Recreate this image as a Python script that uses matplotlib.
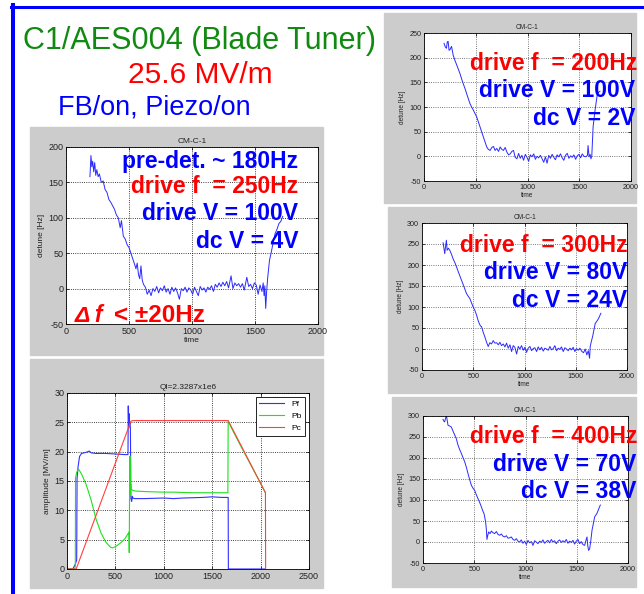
import matplotlib
matplotlib.use("Agg")
import matplotlib.pyplot as plt
from matplotlib.patches import Rectangle
from matplotlib.lines import Line2D

plt.rcParams["font.family"] = ["Liberation Sans", "DejaVu Sans"]
plt.rcParams["axes.unicode_minus"] = False

# ---- data --------------------------------------------------------------
# panel A: drive f = 250 Hz
t_a = [190, 198, 205, 212, 220, 228, 236, 245, 255, 265, 280, 295, 310, 325, 340,
       355, 370, 385, 400, 415, 430, 440, 455, 470, 485, 500, 515, 530, 545, 555,
       565, 575, 585, 595, 605, 615, 630, 645, 660, 675, 690, 705, 720, 735, 750,
       765, 780, 795, 810, 825, 840, 855, 870, 885, 900, 915, 930, 945, 960, 975,
       990, 1005, 1020, 1035, 1050, 1065, 1080, 1095, 1110, 1125, 1140, 1155, 1170,
       1185, 1200, 1215, 1230, 1245, 1260, 1275, 1290, 1310, 1325, 1340, 1355, 1370,
       1385, 1400, 1415, 1435, 1450, 1465, 1480, 1495, 1510, 1525, 1540, 1555, 1565,
       1572, 1578, 1585, 1592, 1600, 1615, 1630, 1645, 1660, 1675, 1690, 1705, 1720]
df_a = [158, 188, 172, 180, 165, 178, 160, 168, 158, 162, 150, 152, 140, 136, 126,
        122, 117, 112, 104, 100, 86, 96, 74, 70, 62, 58, 50, 42, 34, 28,
        36, 20, 14, 32, 12, 6, 2, -8, -2, -10, 0, -4, 3, -6, 1,
        -3, 4, -5, 0, -8, 2, -4, 1, -6, -15, 0, -3, 2, -5, 1,
        -2, -8, 2, -4, -10, 3, -2, 1, -5, 2, -1, 4, -4,
        6, 2, 8, 3, 9, 4, 10, 1, 18, 0, 8, 4, 7,
        2, 7, -2, 16, 3, 6, 0, 8, 5, -8, 5, -4, 8,
        -10, 4, -28, -5, 14, 40, 52, 66, 78, 84, 92, 95, 102]

# panel C: drive f = 200 Hz
t_c = [194, 205, 217, 225, 233, 242, 250, 266, 282, 298, 322, 347, 371, 395, 420,
       444, 460, 476, 492, 509, 525, 541, 558, 574, 590, 606, 622, 639, 655, 671,
       687, 703, 720, 736, 752, 768, 784, 800, 817, 833, 849, 865, 881, 898, 914,
       930, 946, 962, 979, 995, 1011, 1027, 1043, 1060, 1076, 1092, 1108, 1124, 1141,
       1157, 1173, 1189, 1205, 1222, 1238, 1254, 1270, 1286, 1303, 1319, 1335, 1351,
       1367, 1384, 1400, 1416, 1432, 1448, 1465, 1481, 1497, 1513, 1529, 1546, 1562,
       1579, 1585, 1595, 1605, 1613, 1621, 1634, 1653, 1676, 1700]
df_c = [229, 222, 219, 232, 233, 215, 216, 223, 205, 195, 182, 168, 152, 138, 122,
        107, 100, 94, 87, 80, 70, 60, 49, 39, 29, 19, 14, 12, 18, 20,
        12, 16, 10, 19, 14, 12, 18, 9, 3, 5, 10, 12, -2, -5, 6,
        -4, 2, -8, 4, -2, -10, 3, -1, 5, -6, 0, -3, 2, -5,
        -12, -1, -14, 2, -4, 4, -2, -7, 3, -1, 5, -3, -8,
        2, 6, -4, 1, -2, 3, -6, 1, 4, -3, 5, 0, -1,
        2, 22, -1, 4, -5, 0, 60, 94, 128, 132]

# panel D: drive f = 300 Hz
t_d = [206, 214, 222, 230, 238, 245, 258, 271, 287, 303, 320, 336, 360, 385, 410,
       434, 450, 467, 483, 499, 516, 532, 545, 558, 570, 581, 597, 613, 630, 646,
       662, 678, 695, 711, 728, 744, 760, 776, 793, 809, 825, 841, 858, 874, 890,
       906, 923, 939, 955, 971, 988, 1004, 1020, 1036, 1053, 1069, 1085, 1101, 1118,
       1134, 1150, 1166, 1183, 1199, 1215, 1231, 1248, 1264, 1280, 1296, 1313, 1329,
       1345, 1361, 1378, 1394, 1410, 1426, 1443, 1459, 1475, 1491, 1508, 1524, 1540,
       1557, 1576, 1592, 1608, 1622, 1635, 1641, 1652, 1664, 1677, 1690, 1706, 1723,
       1745]
df_d = [253, 240, 227, 245, 259, 235, 240, 235, 226, 215, 206, 196, 180, 164, 148,
        132, 126, 120, 110, 100, 92, 81, 70, 61, 55, 53, 40, 29, 16, 6,
        15, 12, 20, 14, 15, 10, 16, 8, 12, 5, 14, 2, 10, -6, 8,
        4, -12, 6, 0, 8, -3, 4, -8, 2, 6, -4, 1, 3, -6,
        5, -2, 4, -5, 2, 0, -3, 6, -2, 1, 8, -4, 2,
        -1, 5, -6, 3, 0, -4, 2, -2, 4, -6, 1, -3, 2,
        -5, -9, 0, -14, -4, -22, 6, 18, 29, 45, 61, 66, 73,
        85]

# panel E: drive f = 400 Hz
t_e = [195, 203, 211, 220, 228, 236, 244, 260, 276, 293, 309, 325, 341, 358, 374,
       390, 407, 423, 439, 456, 472, 488, 504, 521, 537, 553, 569, 582, 595, 603,
       611, 618, 624, 632, 641, 654, 667, 683, 699, 716, 732, 748, 764, 780, 797,
       813, 830, 846, 862, 878, 894, 910, 927, 943, 959, 975, 992, 1008, 1024, 1040,
       1057, 1073, 1089, 1105, 1122, 1138, 1154, 1170, 1187, 1203, 1219, 1235, 1252,
       1268, 1284, 1300, 1317, 1333, 1349, 1365, 1382, 1398, 1414, 1430, 1447, 1463,
       1479, 1495, 1512, 1528, 1544, 1560, 1577, 1590, 1600, 1608, 1616, 1626, 1638,
       1649, 1662, 1675, 1686, 1697, 1713, 1730]
df_e = [292, 288, 286, 294, 302, 290, 278, 276, 274, 264, 255, 246, 231, 220, 211,
        201, 191, 178, 163, 148, 135, 128, 123, 112, 103, 94, 84, 75, 68, 58,
        48, 30, 6, 16, 24, 20, 26, 22, 20, 25, 18, 16, 19, 14, 12,
        15, 9, 10, 12, 6, 4, 8, 2, 0, 5, -3, 2, -6, 4, -2,
        1, -8, 3, 0, -4, 2, -1, 5, -3, 1, 4, -2, 6,
        0, 3, -4, 2, 5, -1, 3, 0, 6, -3, 2, -1, 4,
        -5, 2, 6, -4, 1, -6, -8, 4, 12, -10, -20, -16, 5,
        28, 44, 60, 64, 68, 78, 88]

# panel B: field amplitudes
t_pf = [0, 60, 85, 100, 104, 115, 130, 150, 175, 200, 230, 250, 300, 400, 500,
        600, 630, 633, 637, 641, 645, 650, 655, 660, 668, 675, 680, 700, 800, 900,
        1000, 1100, 1200, 1300, 1400, 1500, 1600, 1665, 1667, 2050]
v_pf = [0, 0, 0.8, 1.5, 15.5, 17.5, 19.2, 19.7, 19.8, 19.9, 20.1, 19.8, 19.7, 19.7, 19.6,
        19.5, 19.5, 27.8, 24.0, 26.5, 24.5, 25.0, 24.0, 12.0, 11.5, 12.4, 12.1, 12.0, 12.0, 12.05,
        12.1, 12.0, 12.1, 12.15, 12.2, 12.3, 12.2, 12.2, 0, 0]
t_pb = [0, 80, 86, 88, 100, 120, 150, 200, 250, 300, 350, 400, 450, 470, 500,
        550, 600, 630, 640, 643, 646, 650, 654, 658, 665, 680, 700, 800, 900, 1000,
        1100, 1200, 1300, 1400, 1500, 1600, 1662, 1665, 1700, 1800, 1900, 2000, 2050]
v_pb = [0, 0, 0.5, 15.5, 16.5, 17.0, 16.2, 14.3, 11.7, 8.5, 6.2, 4.6, 3.7, 3.6, 3.8,
        4.4, 5.2, 6.0, 6.3, 2.8, 12.0, 19.2, 12.5, 14.5, 13.6, 13.4, 13.3, 13.2, 13.15, 13.1,
        13.1, 13.05, 13.0, 13.0, 13.0, 13.0, 13.0, 25.2, 24.0, 20.8, 17.7, 14.6, 13.0]
t_pc = [0, 95, 660, 680, 1665, 2050, 2052]
v_pc = [0, 0, 25.2, 25.3, 25.3, 13.0, 0]

W, H = 644, 594
fig = plt.figure(figsize=(W / 100, H / 100), dpi=100)


def fx(x):
    return x / W


def fy(y):
    return 1 - y / H


def panel(bg, box, fs, grid_color="k"):
    l, t, r, b = bg
    fig.patches.append(Rectangle((fx(l), fy(b)), (r - l) / W, (b - t) / H,
                                 transform=fig.transFigure, color="#cccccc", zorder=-10))
    l, t, r, b = box
    ax = fig.add_axes([fx(l), fy(b), (r - l) / W, (b - t) / H])
    ax.set_zorder(1)
    ax.grid(True, color=grid_color, linestyle=":", linewidth=0.6)
    ax.tick_params(direction="in", length=2.5, width=0.5, labelsize=fs, pad=2,
                   top=True, right=True, labelcolor="#222222")
    for s in ax.spines.values():
        s.set_linewidth(0.6)
    return ax


def detune_panel(bg, box, t, df, ylim, fs, grid_color="k"):
    ax = panel(bg, box, fs, grid_color)
    ax.plot(t, df, color="#2a2aff", linewidth=0.7)
    ax.set_xlim(0, 2000)
    ax.set_ylim(*ylim)
    ax.set_xticks([0, 500, 1000, 1500, 2000])
    ax.set_yticks(range(ylim[0], ylim[1] + 1, 50))
    ax.set_title("CM-C-1", fontsize=fs - 0.5, pad=3, color="#222222")
    ax.set_xlabel("time", fontsize=fs - 0.5, labelpad=1, color="#222222")
    ax.set_ylabel("detune [Hz]", fontsize=fs - 0.5, labelpad=2, color="#222222")
    return ax


def label(x, y, s, color, size, ha="right", **kw):
    fig.text(fx(x), fy(y), s, color=color, fontsize=size, ha=ha, va="baseline",
             zorder=5, **kw)


detune_panel((30, 127, 323, 355), (66, 147, 318, 324), t_a, df_a, (-50, 200), 6.5)
detune_panel((384, 13, 636, 203), (424, 33, 631, 181), t_c, df_c, (-50, 250), 5.2, "0.3")
detune_panel((388, 207, 636, 393), (422, 223, 627, 370), t_d, df_d, (-50, 300), 5.2, "0.3")
detune_panel((392, 397, 636, 587), (423, 416, 628, 563), t_e, df_e, (-50, 300), 5.2, "0.3")

axb = panel((30, 359, 323, 588), (67, 393, 309, 569), 6.5)
axb.plot(t_pf, v_pf, color="#3030ff", linewidth=0.8, label="Pf")
axb.plot(t_pb, v_pb, color="#20e020", linewidth=0.8, label="Pb")
axb.plot(t_pc, v_pc, color="#ff4040", linewidth=0.8, label="Pc")
axb.set_xlim(0, 2500)
axb.set_ylim(0, 30)
axb.set_xticks([0, 500, 1000, 1500, 2000, 2500])
axb.set_yticks([0, 5, 10, 15, 20, 25, 30])
axb.set_title("Ql=2.3287x1e6", fontsize=6, pad=3, color="#222222")
axb.set_ylabel("amplitude [MV/m]", fontsize=6, labelpad=2, color="#222222")
leg = axb.legend(loc="upper right", fontsize=6, handlelength=3.0, borderaxespad=0.5,
                 fancybox=False, framealpha=1, edgecolor="k", labelspacing=0.5)
leg.get_frame().set_linewidth(0.6)

# slide frame
fig.add_artist(Line2D([fx(11), 1], [fy(6.5), fy(6.5)], color="#0000ff", linewidth=2.2))
fig.add_artist(Line2D([fx(13), fx(13)], [fy(5), 0], color="#0000ff", linewidth=2.9))

# header
label(200, 49, "C1/AES004 (Blade Tuner)", "#108a10", 22, ha="center")
label(200, 83, "25.6 MV/m", "#ff0000", 21.5, ha="center")
label(58, 115, "FB/on, Piezo/on", "#0000ff", 19.5, ha="left")

bold = dict(fontweight="bold")
label(298, 168, "pre-det. ~ 180Hz", "#0000ff", 16.5, **bold)
label(298, 193, "drive f  = 250Hz", "#ff0000", 16.5, **bold)
label(298, 220, "drive V = 100V", "#0000ff", 16.5, **bold)
label(298, 248, "dc V = 4V", "#0000ff", 16.5, **bold)
label(75, 322, "\u0394 f", "#ff0000", 16.5, ha="left", fontstyle="italic", **bold)
label(114, 322, "< \u00b120Hz", "#ff0000", 17.5, ha="left", **bold)

label(637, 70, "drive f  = 200Hz", "#ff0000", 16.5, **bold)
label(635, 97, "drive V = 100V", "#0000ff", 16.5, **bold)
label(635, 125, "dc V = 2V", "#0000ff", 16.5, **bold)

label(628, 252, "drive f  = 300Hz", "#ff0000", 16.5, **bold)
label(627, 279, "drive V = 80V", "#0000ff", 16.5, **bold)
label(627, 307, "dc V = 24V", "#0000ff", 16.5, **bold)

label(637, 443, "drive f  = 400Hz", "#ff0000", 16.5, **bold)
label(636, 471, "drive V = 70V", "#0000ff", 16.5, **bold)
label(636, 498, "dc V = 38V", "#0000ff", 16.5, **bold)

fig.savefig("out.png", dpi=100, facecolor="white")
